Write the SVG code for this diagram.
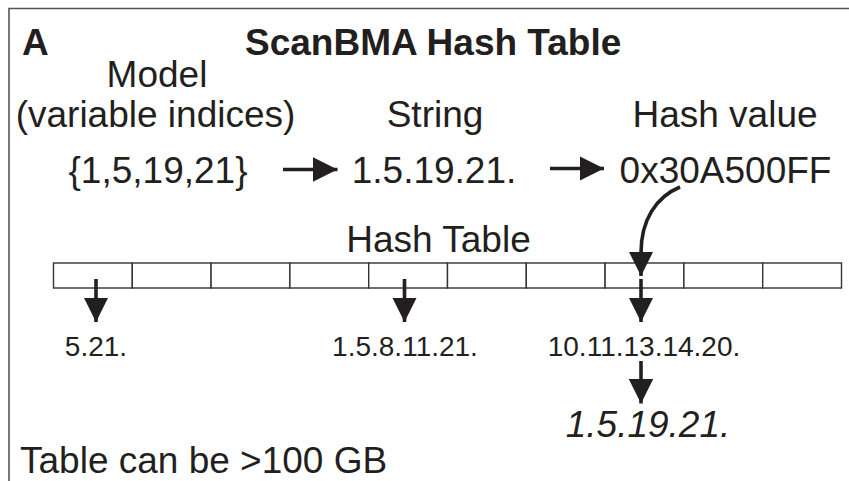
<svg xmlns="http://www.w3.org/2000/svg" width="849" height="481" viewBox="0 0 849 481">
<defs>
<style>
.t{font-family:"Liberation Sans",Arial,sans-serif;fill:#231f20;}
.b{font-weight:bold;font-size:37px;}
.n{font-size:37px;}
.s{font-size:28px;}
.i{font-style:italic;font-size:37px;}
.cell{fill:#fff;stroke:#333;stroke-width:1.4;}
.shaft{stroke:#231f20;stroke-width:3.6;fill:none;}
</style>
<marker id="ah" markerUnits="strokeWidth" markerWidth="6.8" markerHeight="6.8" viewBox="0 0 24 24" refX="24" refY="12" orient="auto">
<path d="M0,0 L24,12 L0,24 Z" fill="#231f20"/>
</marker>
</defs>
<rect width="849" height="481" fill="#fff"/>
<path d="M9,481 V8.5 H849" fill="none" stroke="#555" stroke-width="1.6"/>

<g id="labelA"><text class="t b" x="22" y="55">A</text></g>
<g id="title"><text class="t b" x="245" y="55">ScanBMA Hash Table</text></g>

<g id="model">
<text class="t n" x="157" y="87" text-anchor="middle">Model</text>
<text class="t n" x="155.5" y="127" text-anchor="middle">(variable indices)</text>
<text class="t n" x="158" y="183" text-anchor="middle">{1,5,19,21}</text>
</g>
<g id="string">
<text class="t n" x="435" y="127" text-anchor="middle">String</text>
<text class="t n" x="434" y="183" text-anchor="middle">1.5.19.21.</text>
</g>
<g id="hashvalue">
<text class="t n" x="725" y="127" text-anchor="middle">Hash value</text>
<text class="t n" x="725.5" y="183" text-anchor="middle">0x30A500FF</text>
</g>

<g id="hashtable">
<text class="t n" x="438.5" y="252" text-anchor="middle">Hash Table</text>
<rect class="cell" x="53.5" y="263" width="78.8" height="25"/>
<rect class="cell" x="132.3" y="263" width="78.8" height="25"/>
<rect class="cell" x="211.1" y="263" width="78.8" height="25"/>
<rect class="cell" x="289.9" y="263" width="78.8" height="25"/>
<rect class="cell" x="368.7" y="263" width="78.8" height="25"/>
<rect class="cell" x="447.5" y="263" width="78.8" height="25"/>
<rect class="cell" x="526.3" y="263" width="78.8" height="25"/>
<rect class="cell" x="605.1" y="263" width="78.8" height="25"/>
<rect class="cell" x="683.9" y="263" width="78.8" height="25"/>
<rect class="cell" x="762.7" y="263" width="78.8" height="25"/>
</g>

<g id="entries">
<text class="t s" x="96" y="356" text-anchor="middle">5.21.</text>
<text class="t s" x="405" y="356" text-anchor="middle">1.5.8.11.21.</text>
<text class="t s" x="644" y="356" text-anchor="middle">10.11.13.14.20.</text>
<text class="t i" x="648" y="437" text-anchor="middle">1.5.19.21.</text>
</g>

<g id="note"><text class="t n" x="20" y="473">Table can be &gt;100 GB</text></g>

<g id="connectors">
<line class="shaft" x1="283" y1="169.5" x2="337.5" y2="169.5" marker-end="url(#ah)"/>
<line class="shaft" x1="550" y1="168.5" x2="604" y2="168.5" marker-end="url(#ah)"/>
<path class="shaft" d="M680,187 C656,197 641,220 641,253 L641,276" marker-end="url(#ah)"/>
<line class="shaft" x1="96" y1="279" x2="96" y2="322" marker-end="url(#ah)"/>
<line class="shaft" x1="404.5" y1="279" x2="404.5" y2="322" marker-end="url(#ah)"/>
<line class="shaft" x1="641" y1="279" x2="641" y2="322" marker-end="url(#ah)"/>
<line class="shaft" x1="641" y1="361" x2="641" y2="403.5" marker-end="url(#ah)"/>
</g>
</svg>
